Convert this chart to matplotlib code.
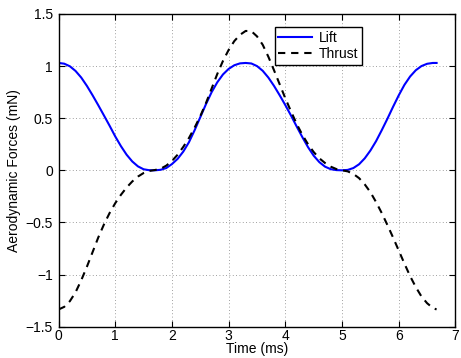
import matplotlib
matplotlib.use("Agg")
import matplotlib.pyplot as plt

plt.rcParams['font.family'] = ['Liberation Sans', 'DejaVu Sans']

# time samples (ms)
time_ms = [0.0, 0.1, 0.2, 0.3, 0.4, 0.5, 0.6, 0.7, 0.8, 0.9,
           1.0, 1.1, 1.2, 1.3, 1.4, 1.5, 1.6, 1.7, 1.8, 1.9,
           2.0, 2.1, 2.2, 2.3, 2.4, 2.5, 2.6, 2.7, 2.8, 2.9,
           3.0, 3.1, 3.2, 3.3, 3.4, 3.5, 3.6, 3.7, 3.8, 3.9,
           4.0, 4.1, 4.2, 4.3, 4.4, 4.5, 4.6, 4.7, 4.8, 4.9,
           5.0, 5.1, 5.2, 5.3, 5.4, 5.5, 5.6, 5.7, 5.8, 5.9,
           6.0, 6.1, 6.2, 6.3, 6.4, 6.5, 6.6, 6.667]

lift = [1.030, 1.023, 0.998, 0.953, 0.890, 0.810, 0.720, 0.625, 0.527, 0.428,
        0.325, 0.232, 0.150, 0.085, 0.038, 0.010, 0.001, 0.000, 0.005, 0.022,
        0.060, 0.110, 0.180, 0.270, 0.385, 0.510, 0.635, 0.750, 0.845, 0.920,
        0.973, 1.008, 1.026, 1.030, 1.025, 1.000, 0.955, 0.890, 0.810, 0.720,
        0.625, 0.525, 0.420, 0.318, 0.222, 0.140, 0.078, 0.035, 0.011, 0.002,
        0.000, 0.004, 0.022, 0.058, 0.115, 0.190, 0.280, 0.385, 0.495, 0.610,
        0.720, 0.820, 0.900, 0.960, 1.000, 1.022, 1.030, 1.030]

thrust = [-1.335, -1.310, -1.255, -1.170, -1.055, -0.925, -0.785, -0.645, -0.520, -0.410,
          -0.315, -0.235, -0.165, -0.107, -0.060, -0.026, -0.006, 0.003, 0.015, 0.045,
          0.090, 0.150, 0.225, 0.310, 0.410, 0.520, 0.645, 0.785, 0.925, 1.050,
          1.155, 1.240, 1.300, 1.337, 1.335, 1.285, 1.205, 1.090, 0.960, 0.825,
          0.690, 0.565, 0.445, 0.340, 0.250, 0.175, 0.115, 0.070, 0.035, 0.012,
          0.000, -0.010, -0.035, -0.075, -0.135, -0.210, -0.305, -0.410, -0.525, -0.645,
          -0.770, -0.895, -1.015, -1.120, -1.210, -1.275, -1.320, -1.335]

x_ticks = [0, 1, 2, 3, 4, 5, 6, 7]
y_ticks = [-1.5, -1, -0.5, 0, 0.5, 1, 1.5]
y_tick_labels = ['\u22121.5', '\u22121', '\u22120.5', '0', '0.5', '1', '1.5']

fig = plt.figure(figsize=(4.61, 3.58), dpi=100)
ax = fig.add_axes([0.127, 0.0875, 0.861, 0.8735])

ax.plot(time_ms, lift, color=(0, 0, 1), lw=1.5, label='Lift')
ax.plot(time_ms, thrust, color='black', lw=1.5, ls=(0, (3.5, 2.8)), label='Thrust')

ax.set_xlim(0, 7)
ax.set_ylim(-1.5, 1.5)
ax.set_xticks(x_ticks)
ax.set_yticks(y_ticks)
ax.set_yticklabels(y_tick_labels)
ax.tick_params(direction='in', top=True, right=True, labelsize=10, length=4, width=0.8)
ax.tick_params(axis='x', pad=2)
ax.tick_params(axis='y', pad=4)
ax.grid(True, color='#808080', ls=(0, (1, 3)), lw=0.6)
for s in ax.spines.values():
    s.set_linewidth(1.0)

ax.set_xlabel('Time (ms)', fontsize=10, labelpad=-1)
ax.set_ylabel('Aerodynamic Forces (mN)', fontsize=10, labelpad=3)

leg = ax.legend(loc='upper left', bbox_to_anchor=(0.545, 0.958), borderaxespad=0,
                fontsize=10, fancybox=False, framealpha=1, edgecolor='black',
                handlelength=2.4, handletextpad=0.5, borderpad=0.25, labelspacing=0.2)
leg.get_frame().set_linewidth(1.0)

fig.savefig('out.png', dpi=100)
